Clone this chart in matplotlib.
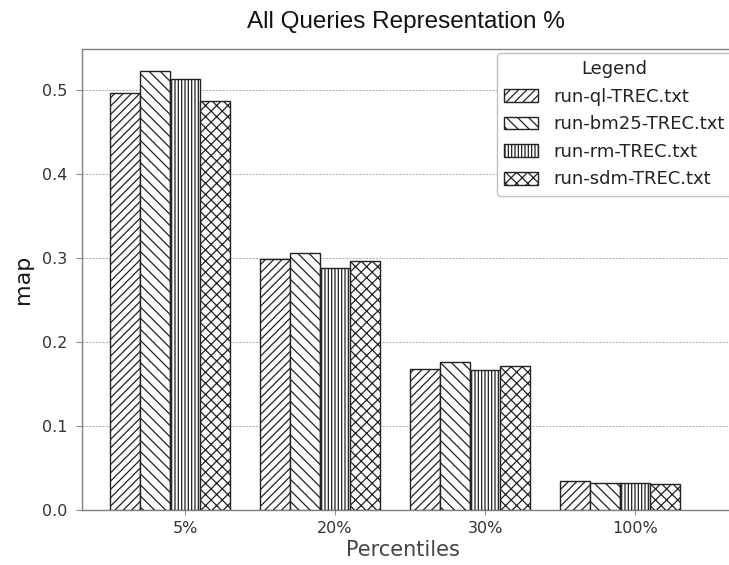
import matplotlib
matplotlib.use("Agg")
import matplotlib.pyplot as plt
import numpy as np

categories = ["5%", "20%", "30%", "100%"]
series_names = ["run-ql-TREC.txt", "run-bm25-TREC.txt", "run-rm-TREC.txt", "run-sdm-TREC.txt"]
ql = [0.497, 0.299, 0.168, 0.034]
bm25 = [0.523, 0.306, 0.176, 0.032]
rm = [0.513, 0.288, 0.166, 0.032]
sdm = [0.487, 0.297, 0.171, 0.031]
yticks = [0.0, 0.1, 0.2, 0.3, 0.4, 0.5]

series = [ql, bm25, rm, sdm]
hatches = ["////", "\\\\\\", "|||||", "xxx"]

plt.rcParams['hatch.linewidth'] = 0.9
fig = plt.figure(figsize=(7.29, 5.65), dpi=100)
ax = fig.add_axes([81.7 / 729, 55.5 / 565, 4.39 * 150 / 729, 460.2 / 565])

x = np.arange(len(categories))
w = 0.2
for i, (vals, name, h) in enumerate(zip(series, series_names, hatches)):
    ax.bar(x + (i - 2) * w, vals, w, label=name, color="white",
           edgecolor="#222222", hatch=h, linewidth=1.0, zorder=3)

ax.set_xlim(-0.689, 3.70)
ax.set_ylim(0, 0.549)
ax.set_xticks(x)
ax.set_xticklabels(categories)
ax.set_yticks(yticks)
ax.set_yticklabels([f"{v:.1f}" for v in yticks])

ax.grid(axis="y", color="#b8b8b8", linestyle=(0, (2, 1)), linewidth=0.8, zorder=0)
ax.set_axisbelow(True)
for s in ["left", "bottom", "top", "right"]:
    ax.spines[s].set_color("#808080")
    ax.spines[s].set_linewidth(1.0)

ax.tick_params(axis="y", length=4.5, width=0.8, color="#909090", pad=6,
               labelsize=11.5, labelcolor="#333333")
ax.tick_params(axis="x", length=3.5, width=0.8, color="#909090", pad=5,
               labelsize=11.5, labelcolor="#333333")

ax.set_ylabel("map", fontsize=16, color="#1a1a1a", labelpad=6)
ax.set_xlabel("Percentiles", fontsize=15, color="#444444", labelpad=3)
ax.xaxis.label.set_x(0.488)
ax.set_title("All Queries Representation %", fontsize=17.5,
             family="Liberation Sans", pad=15, color="#111111", x=0.4925)

leg = ax.legend(title="Legend", loc="upper left", bbox_to_anchor=(497 / 729, 1 - 53 / 565),
                bbox_transform=fig.transFigure, borderaxespad=0,
                fontsize=13, title_fontsize=13, frameon=True,
                fancybox=True, framealpha=1, edgecolor="#c0c0c0",
                labelspacing=0.53, handlelength=1.85, handleheight=0.72,
                handletextpad=0.85, borderpad=0.4)
leg.get_title().set_color("#222222")
for t in leg.get_texts():
    t.set_color("#222222")

fig.savefig("out.png", dpi=100)
